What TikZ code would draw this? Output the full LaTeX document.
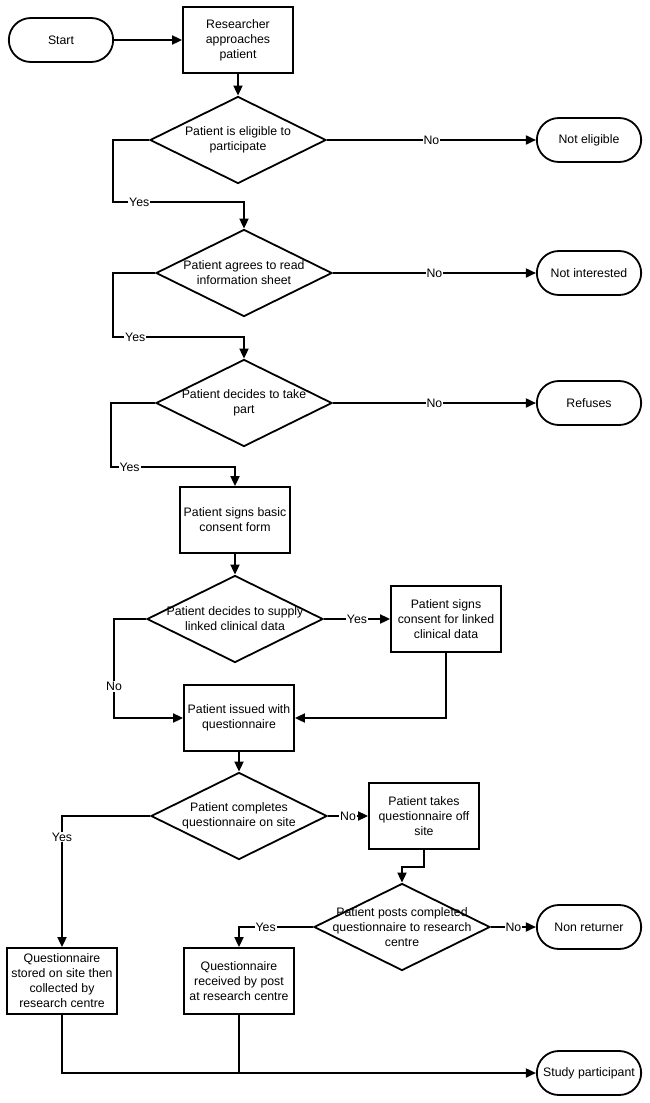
\documentclass[tikz,border=0pt]{standalone}
\usepackage{fontspec}
\setmainfont{Liberation Sans}
\usetikzlibrary{arrows.meta,shapes.geometric,shapes.misc}
\tikzset{
  every node/.style={font=\fontsize{12.3}{15}\selectfont},
  box/.style={draw, line width=1.8pt, minimum width=110pt, minimum height=66pt, align=center, inner sep=1pt},
  term/.style={draw, line width=1.8pt, rounded rectangle, minimum width=111pt, minimum height=44pt, align=center},
  dec/.style={draw, line width=1.8pt, diamond, minimum width=176pt, minimum height=87pt, inner sep=0pt},
  lbl/.style={fill=white, inner sep=1pt},
  conn/.style={line width=1.8pt},
  arr/.style={line width=1.8pt, -{Triangle[length=10pt,width=9pt]}},
}
\begin{document}
\begin{tikzpicture}[x=1pt,y=-1pt]
\useasboundingbox (0,0) rectangle (650,1103);
% nodes
\node[term] (start) at (61,40) {Start};
\node[box] (res) at (238,40) {Researcher\\approaches\\patient};
\node[dec, label={[name=d1t,align=center]center:Patient is eligible to\\participate}] (d1) at (238,140) {};
\node[term] (ne) at (589,140) {Not eligible};
\node[dec, label={[name=d2t,align=center]center:Patient agrees to read\\information sheet}] (d2) at (244,273) {};
\node[term] (ni) at (589,273) {Not interested};
\node[dec, label={[name=d3t,align=center]center:Patient decides to take\\part}] (d3) at (244,403) {};
\node[term] (ref) at (589,403) {Refuses};
\node[box] (basic) at (235,520) {Patient signs basic\\consent form};
\node[dec, label={[name=d4t,align=center]center:Patient decides to supply\\linked clinical data}] (d4) at (235,619) {};
\node[box] (linked) at (446,619) {Patient signs\\consent for linked\\clinical data};
\node[box] (issued) at (239,718) {Patient issued with\\questionnaire};
\node[dec, label={[name=d5t,align=center]center:Patient completes\\questionnaire on site}] (d5) at (239,816) {};
\node[box] (takes) at (424,816) {Patient takes\\questionnaire off\\site};
\node[dec, label={[name=d6t,align=center]center:Patient posts completed\\questionnaire to research\\centre}] (d6) at (402,927) {};
\node[term] (nr) at (589,927) {Non returner};
\node[box] (stored) at (62,981) {Questionnaire\\stored on site then\\collected by\\research centre};
\node[box] (recv) at (239,981) {Questionnaire\\received by post\\at research centre};
\node[term] (sp) at (589,1073) {Study participant};
% corner coordinates
\coordinate (k1) at (113,202);
\coordinate (k2) at (113,337);
\coordinate (k3) at (111,467);
\coordinate (k4) at (114,718);
\coordinate (k6) at (402,867);
% connectors
\draw[arr] (start) -- (res);
\draw[arr] (res) -- (d1.north);
\draw[arr] (d1.east) -- node[lbl]{No} (ne.west);
\draw[arr] (d1.west) -| (k1) -- node[lbl,pos=0.2]{Yes} (k1 -| d2.north) -- (d2.north);
\draw[arr] (d2.east) -- node[lbl]{No} (ni.west);
\draw[arr] (d2.west) -| (k2) -- node[lbl,pos=0.17]{Yes} (k2 -| d3.north) -- (d3.north);
\draw[arr] (d3.east) -- node[lbl]{No} (ref.west);
\draw[arr] (d3.west) -| (k3) -- node[lbl,pos=0.15]{Yes} (k3 -| basic.north) -- (basic.north);
\draw[arr] (basic.south) -- (d4.north);
\draw[arr] (d4.east) -- node[lbl]{Yes} (linked.west);
\draw[arr] (d4.west) -| node[lbl,pos=0.84]{No} (k4) -- (issued.west);
\draw[arr] (linked.south) |- (issued.east);
\draw[arr] (issued.south) -- (d5.north);
\draw[arr] (d5.east) -- node[lbl]{No} (takes.west);
\draw[arr] (d5.west) -| node[lbl,pos=0.58]{Yes} (stored.north);
\draw[arr] (takes.south) |- (k6) -- (d6.north);
\draw[arr] (d6.east) -- node[lbl]{No} (nr.west);
\draw[arr] (d6.west) -| node[lbl,pos=0.32]{Yes} (recv.north);
\draw[arr] (stored.south) |- (sp.west);
\draw[conn] (recv.south) -- (recv.south |- sp.west);
\end{tikzpicture}
\end{document}
